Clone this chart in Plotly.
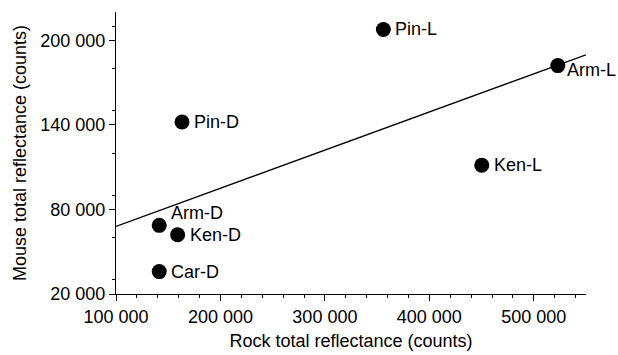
import numpy as np
import plotly.graph_objects as go

labels = ["Pin-L", "Arm-L", "Pin-D", "Ken-L", "Arm-D", "Ken-D", "Car-D"]
rock = [356000, 523000, 163200, 450200, 141400, 159000, 141400]
mouse = [207600, 182000, 142000, 111400, 68700, 62000, 35900]

x_range = [100000, 550000]
y_range = [20000, 220000]

# label placement offsets (pixels) relative to the marker centre
label_dx = {"Arm-L": 7}
label_dy = {"Arm-L": -4, "Arm-D": 12}

slope, intercept = np.polyfit(rock, mouse, 1)
fit_x = np.array(x_range)
fit_y = slope * fit_x + intercept

font = "Liberation Sans, Arial, Helvetica, sans-serif"
fs = 18

fig = go.Figure()
fig.add_trace(go.Scatter(x=fit_x, y=fit_y, mode="lines",
                         line=dict(color="black", width=1.3),
                         showlegend=False, hoverinfo="skip"))
fig.add_trace(go.Scatter(x=rock, y=mouse, mode="markers",
                         marker=dict(color="black", size=15),
                         showlegend=False, cliponaxis=False))

for lab, xv, yv in zip(labels, rock, mouse):
    fig.add_annotation(x=xv, y=yv, text=lab, showarrow=False,
                       xanchor="left", yanchor="middle",
                       xshift=label_dx.get(lab, 10), yshift=label_dy.get(lab, 0),
                       font=dict(family=font, size=fs, color="black"))

axis_common = dict(showline=True, linecolor="black", linewidth=1.2,
                   ticks="outside", ticklen=6, tickcolor="black", tickwidth=1.2,
                   showgrid=False, zeroline=False, separatethousands=True,
                   tickformat=",d",
                   tickfont=dict(family=font, size=fs, color="black"),
                   title_font=dict(family=font, size=fs, color="black"))

fig.update_xaxes(range=x_range, tick0=100000, dtick=100000,
                 minor=dict(dtick=20000, ticklen=3, ticks="outside",
                            tickcolor="black", tickwidth=1.2),
                 title_text="Rock total reflectance (counts)", title_standoff=8,
                 **axis_common)
fig.update_yaxes(range=y_range, tick0=20000, dtick=60000,
                 minor=dict(dtick=30000, ticklen=3, ticks="outside",
                            tickcolor="black", tickwidth=1.2),
                 title_text="Mouse total reflectance (counts)", title_standoff=8,
                 **axis_common)

fig.update_layout(width=618, height=355, separators=". ",
                  margin=dict(l=116, r=32, t=12, b=61, autoexpand=False),
                  plot_bgcolor="white", paper_bgcolor="white",
                  font=dict(family=font, size=fs, color="black"))

fig.write_html("out.html", config={"displayModeBar": False},
               post_script="document.body.style.margin='0px';document.body.style.overflow='hidden';")
